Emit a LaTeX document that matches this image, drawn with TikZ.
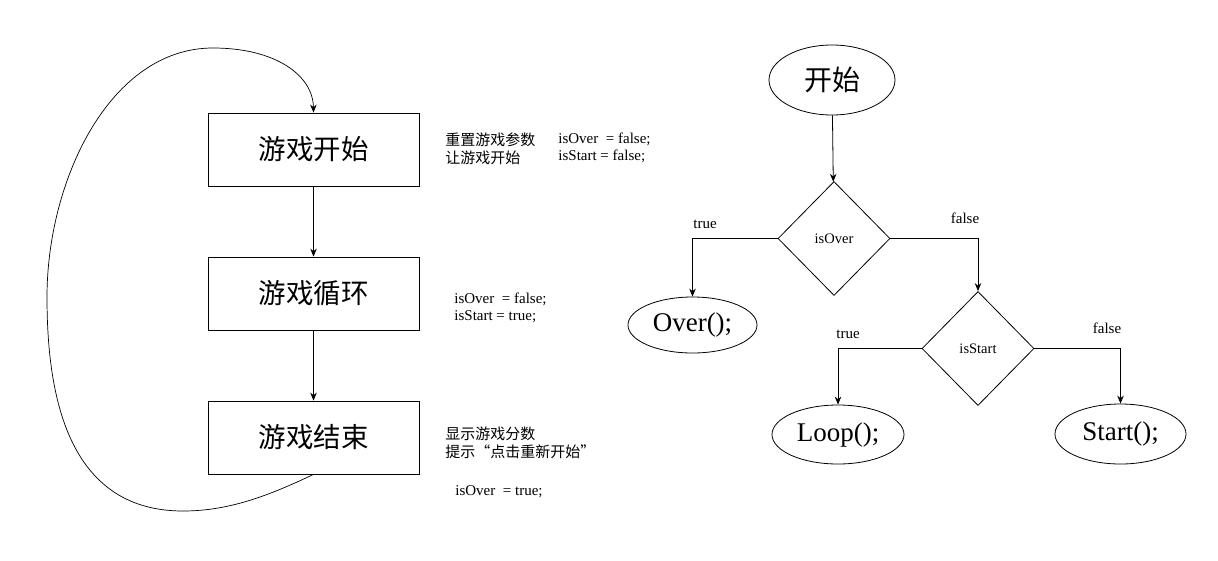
\documentclass[tikz,border=0pt]{standalone}
\usepackage{fontspec}
\setmainfont{Liberation Serif}
\newfontfamily\cjk{Noto Sans CJK SC}
\usetikzlibrary{shapes.geometric,arrows.meta}
\begin{document}
\begin{tikzpicture}[x=1pt,y=-1pt,
  every path/.style={line width=0.8pt},
  arr/.style={-{Stealth[length=8pt,width=6.5pt]}},
  procbox/.style={draw,minimum width=211pt,minimum height=73pt,inner sep=0pt,font=\cjk\fontsize{27.5}{30}\selectfont},
  oval/.style={draw,ellipse,inner sep=0pt,font=\fontsize{27}{30}\selectfont},
  decide/.style={draw,diamond,minimum width=112pt,minimum height=114pt,inner sep=0pt,font=\fontsize{14.5}{16}\selectfont},
  note/.style={anchor=west,inner sep=0pt,align=left,font=\cjk\fontsize{15}{18}\selectfont},
  code/.style={anchor=west,inner sep=0pt,align=left,font=\fontsize{15}{17}\selectfont},
  lbl/.style={inner sep=0pt,font=\fontsize{15}{16}\selectfont}]
\useasboundingbox (0,0) rectangle (1218,560);
% left flow
\node[procbox] (b1) at (313.5,149.5) {游戏开始};
\node[procbox] (b2) at (313.5,293.5) {游戏循环};
\node[procbox] (b3) at (313.5,437.5) {游戏结束};
\draw[arr] (b1) -- (b2);
\draw[arr] (b2) -- (b3);
\draw[arr,line width=0.7pt] (b3.south) .. controls (270,495) and (230,511) .. (183,511)
  .. controls (65,511) and (47,390) .. (47,297)
  .. controls (47,180) and (110,48) .. (213,48)
  .. controls (275,48) and (313,75) .. (b1.north);
\node[note] (n1) at (445,149) {重置游戏参数\\让游戏开始};
\node[code] (c1) at (558,147.5) {isOver\ \ = false;\\isStart = false;};
\node[code] (c2) at (454,308) {isOver\ \ = false;\\isStart = true;};
\node[note] (n3) at (445,443) {显示游戏分数\\提示“点击重新开始”};
\node[code] (c3) at (455,492) {isOver\ \ = true;};
% right flow
\node[oval,minimum width=126pt,minimum height=70pt,font=\cjk\fontsize{28}{32}\selectfont] (st) at (832,80) {开始};
\node[decide] (d1) at (834,238.5) {isOver};
\node[decide] (d2) at (978,348.5) {isStart};
\node[oval,minimum width=129pt,minimum height=56pt] (ov) at (692.5,325) {Over();};
\node[oval,minimum width=132pt,minimum height=59pt] (lp) at (838,434.5) {Loop();};
\node[oval,minimum width=131pt,minimum height=60pt] (sr) at (1120.5,434) {Start();};
\draw[arr] (st) -- (d1);
\draw[arr] (d1.west) -| (ov.north);
\draw[arr] (d1.east) -| (d2.north);
\draw[arr] (d2.west) -| (lp.north);
\draw[arr] (d2.east) -| (sr.north);
\node[lbl] (t1) at (705,224) {true};
\node[lbl] (f1) at (965,218) {false};
\node[lbl] (t2) at (848,334) {true};
\node[lbl] (f2) at (1107,328) {false};
\end{tikzpicture}
\end{document}
